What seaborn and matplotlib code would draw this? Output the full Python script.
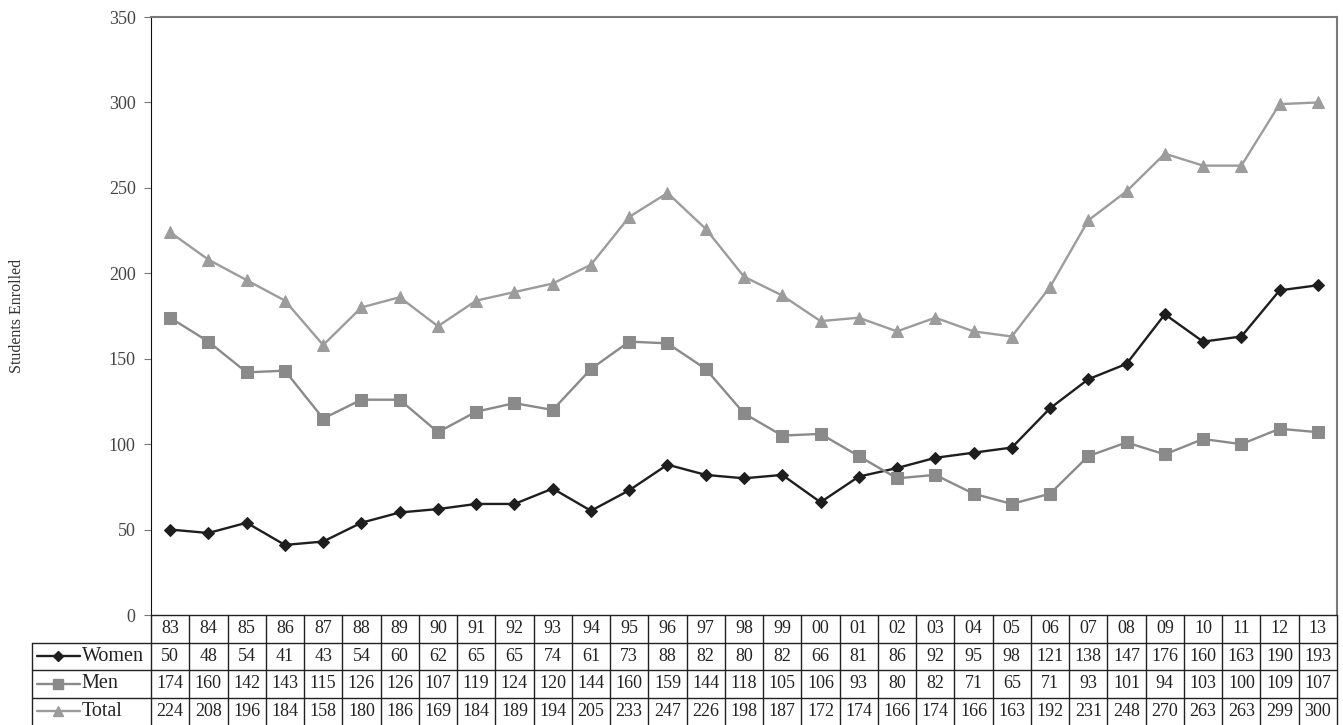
import numpy as np
import pandas as pd
import matplotlib
matplotlib.use("Agg")
import matplotlib.pyplot as plt
import seaborn as sns

years = ["83", "84", "85", "86", "87", "88", "89", "90", "91", "92", "93", "94",
         "95", "96", "97", "98", "99", "00", "01", "02", "03", "04", "05", "06",
         "07", "08", "09", "10", "11", "12", "13"]
women = [50, 48, 54, 41, 43, 54, 60, 62, 65, 65, 74, 61, 73, 88, 82, 80, 82, 66,
         81, 86, 92, 95, 98, 121, 138, 147, 176, 160, 163, 190, 193]
men = [174, 160, 142, 143, 115, 126, 126, 107, 119, 124, 120, 144, 160, 159, 144,
       118, 105, 106, 93, 80, 82, 71, 65, 71, 93, 101, 94, 103, 100, 109, 107]
total = [224, 208, 196, 184, 158, 180, 186, 169, 184, 189, 194, 205, 233, 247, 226,
         198, 187, 172, 174, 166, 174, 166, 163, 192, 231, 248, 270, 263, 263, 299, 300]

series_names = ["Women", "Men", "Total"]
series_vals = [women, men, total]
series_color = ["#1e1e1e", "#8a8a8a", "#9c9c9c"]
series_marker = ["D", "s", "^"]
series_msize = [6, 8, 8]

sns.set_style("white")
plt.rcParams["font.family"] = ["Liberation Serif", "DejaVu Serif"]

W, H = 1343, 725
fig = plt.figure(figsize=(W / 100, H / 100), dpi=100)

# pixel layout
left_px, right_px, top_px, bot_px = 151, 1337, 17, 615
lab_px = 32
ax = fig.add_axes([left_px / W, 1 - bot_px / H,
                   (right_px - left_px) / W, (bot_px - top_px) / H])

xs = np.arange(len(years))
df = pd.DataFrame({"x": xs, "Women": women, "Men": men, "Total": total})
for name, col, mk, ms in zip(series_names, series_color, series_marker, series_msize):
    sns.lineplot(data=df, x="x", y=name, ax=ax, color=col, marker=mk,
                 markersize=ms, markeredgecolor=col, linewidth=1.7)

ax.set_xlim(-0.5, len(years) - 0.5)
ax.set_ylim(0, 350)
ax.set_yticks(range(0, 351, 50))
ax.set_xticks([])
ax.set_xlabel("")
ax.set_ylabel("Students Enrolled", fontsize=11.5, color="#333333", labelpad=60)
ax.tick_params(axis="y", left=True, length=5, color="#777777", labelsize=13,
               labelcolor="#444444", pad=6)
for s in ["top", "right"]:
    ax.spines[s].set_color("#7a7a7a")
    ax.spines[s].set_linewidth(1.5)
ax.spines["left"].set_color("#111111")
ax.spines["bottom"].set_visible(False)

# data table under the plot
col_w = (right_px - left_px) / len(years)
lab_w = (left_px - lab_px) / col_w
tab = fig.add_axes([lab_px / W, 0, (right_px - lab_px) / W, (H - bot_px) / H])
x0 = -0.5 - lab_w
x1 = len(years) - 0.5
tab.set_xlim(x0, x1)
tab.set_ylim(0, 4)
tab.axis("off")
lc = "#222222"
lw = 1.0
for i in range(len(years) + 1):
    tab.plot([i - 0.5, i - 0.5], [0, 4], color=lc, lw=lw, clip_on=False)
tab.plot([x0, x0], [0, 3], color=lc, lw=lw, clip_on=False)
tab.plot([-0.5, x1], [4, 4], color=lc, lw=lw, clip_on=False)
for yy in [3, 2, 1]:
    tab.plot([x0, x1], [yy, yy], color=lc, lw=lw, clip_on=False)

for i, yr in enumerate(years):
    tab.text(i, 3.5, yr, ha="center", va="center", fontsize=13, color="#222222")
for r, (name, vals, col, mk, ms) in enumerate(zip(series_names, series_vals,
                                                   series_color, series_marker,
                                                   series_msize)):
    yc = 2.5 - r
    for i, v in enumerate(vals):
        tab.text(i, yc, str(v), ha="center", va="center", fontsize=13,
                 color="#222222")
    gx0 = x0 + 0.13
    gx1 = x0 + 1.25
    tab.plot([gx0, gx1], [yc, yc], color=col, lw=1.7, clip_on=False)
    tab.plot([(gx0 + gx1) / 2], [yc], marker=mk, markersize=ms - 1, color=col,
             markeredgecolor=col, clip_on=False)
    tab.text(gx1 + 0.05, yc, name, ha="left", va="center", fontsize=14.5,
             color="#222222")

fig.savefig("out.png", dpi=100)
